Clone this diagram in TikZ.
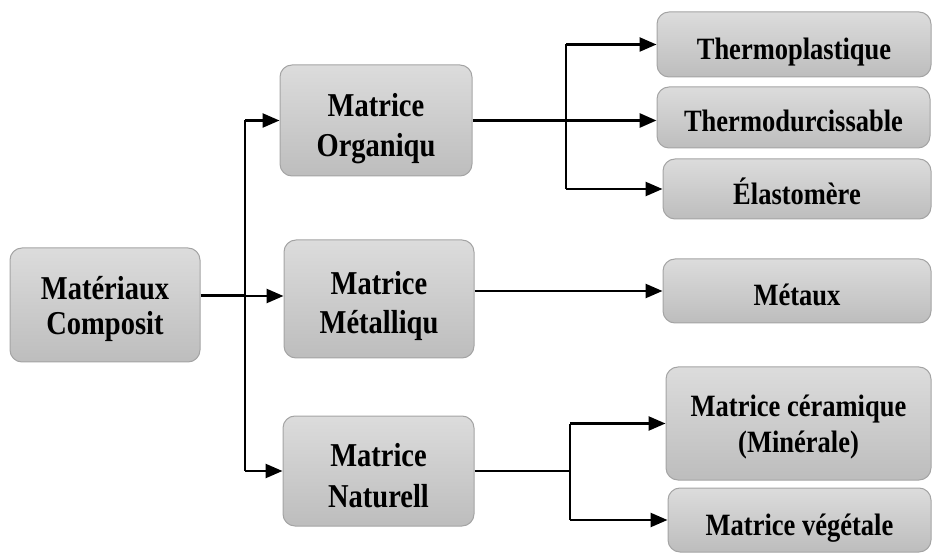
\documentclass[tikz,border=0pt]{standalone}
\usepackage{fontspec}
\usepackage{graphicx}
\setmainfont{Liberation Serif}
\usetikzlibrary{arrows.meta}
\definecolor{boxtop}{HTML}{DCDCDC}
\definecolor{boxbot}{HTML}{BDBDBD}
\definecolor{boxline}{HTML}{A4A4A4}
% #1 font size, #2 baseline skip, #3 downward shift, #4 text
\newcommand{\talltext}[4]{\raisebox{-#3}[\height][\depth]{\scalebox{1}[1.17]{\fontsize{#1}{#2}\selectfont\begin{tabular}{@{}c@{}}#4\end{tabular}}}}
\tikzset{
  box/.style={rectangle, rounded corners=12pt, draw=boxline, line width=1pt,
    top color=boxtop, bottom color=boxbot, align=center, inner sep=0pt,
    font=\bfseries},
  link/.style={line width=2.5pt, draw=black},
  arr/.style={link, -{Triangle[length=17pt,width=14pt]}},
}
\begin{document}
\begin{tikzpicture}[x=1pt,y=-1pt]
\useasboundingbox (0,0) rectangle (932,553);
% main boxes
\node[box, minimum width=190pt, minimum height=114pt] (comp) at (105,305) {\talltext{28.5}{30}{5pt}{Matériaux\\Composit}};
\node[box, minimum width=192pt, minimum height=111pt] (org) at (376,120.5) {\talltext{28.5}{34.5}{8pt}{Matrice\\Organiqu}};
\node[box, minimum width=190pt, minimum height=118pt] (met) at (379,299) {\talltext{28.5}{34}{7pt}{Matrice\\Métalliqu}};
\node[box, minimum width=191pt, minimum height=110pt] (nat) at (378.5,471) {\talltext{28.5}{34.5}{8pt}{Matrice\\Naturell}};
% leaves
\node[box, minimum width=274pt, minimum height=65pt] (tp) at (794,44.5) {\talltext{26.5}{30}{8pt}{Thermoplastique}};
\node[box, minimum width=273pt, minimum height=61pt] (td) at (793.5,117.5) {\talltext{26.5}{30}{7pt}{Thermodurcissable}};
\node[box, minimum width=268pt, minimum height=60pt] (el) at (797,189) {\talltext{26.5}{30}{7pt}{Élastomère}};
\node[box, minimum width=268pt, minimum height=64pt] (mx) at (797,291) {\talltext{26.5}{30}{7pt}{Métaux}};
\node[box, minimum width=265pt, minimum height=113pt] (cer) at (798.5,423.5) {\talltext{26.5}{30}{4pt}{Matrice céramique\\(Minérale)}};
\node[box, minimum width=263pt, minimum height=64pt] (veg) at (799.5,520) {\talltext{26.5}{30}{8pt}{Matrice végétale}};
% junctions
\coordinate (j1) at (245,296);
\coordinate (j2) at (566,120.5);
\coordinate (j3) at (570,471);
% connectors from Composit
\draw[link, line width=3pt] (comp.east |- j1) -- (j1);
\draw[link, line width=2.2pt] (j1 |- org.west) -- (j1 |- nat.west);
\draw[arr] (j1 |- org.west) -- (org.west);
\draw[arr] (j1) -- (met.west |- j1);
\draw[arr] (j1 |- nat.west) -- (nat.west);
% Organiqu
\draw[arr, line width=3pt] (org.east) -- (td.west |- org.east);
\draw[link, line width=2.2pt] (j2 |- tp.west) -- (j2 |- el.west);
\draw[arr] (j2 |- tp.west) -- (tp.west);
\draw[arr] (j2 |- el.west) -- (el.west);
% Metallique
\draw[arr] (met.east |- mx.west) -- (mx.west);
% Naturelle
\draw[link] (nat.east) -- (j3);
\draw[link, line width=2.2pt] (j3 |- cer.west) -- (j3 |- veg.west);
\draw[arr] (j3 |- cer.west) -- (cer.west);
\draw[arr] (j3 |- veg.west) -- (veg.west);
\end{tikzpicture}
\end{document}
